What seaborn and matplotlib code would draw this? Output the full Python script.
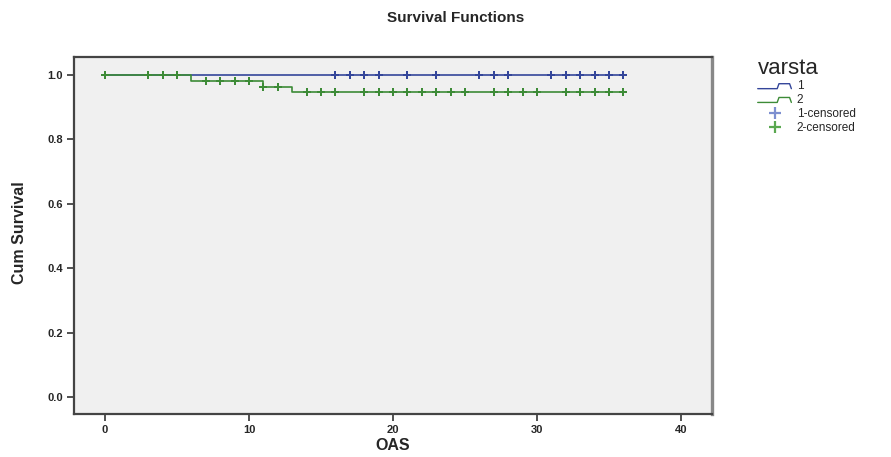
import numpy as np
import pandas as pd
import matplotlib
matplotlib.use("Agg")
import matplotlib.pyplot as plt
import seaborn as sns
from matplotlib.lines import Line2D
from matplotlib.legend_handler import HandlerBase

# ---- data ----
time_1 = [0, 36]
surv_1 = [1.0, 1.0]
censor_1 = [16, 17, 18, 19, 21, 23, 26, 27, 28, 31, 32, 33, 34, 35, 36]

time_2 = [0, 6, 11, 13, 36]
surv_2 = [1.0, 0.981, 0.964, 0.948, 0.948]
censor_2 = [0, 3, 4, 5, 7, 8, 9, 10, 11, 12, 14, 15, 16, 18, 19, 20, 21, 22,
            23, 24, 25, 27, 28, 29, 30, 32, 33, 34, 35, 36]

x_ticks = [0, 10, 20, 30, 40]
y_ticks = [0.0, 0.2, 0.4, 0.6, 0.8, 1.0]
group_labels = ["1", "2"]
legend_title = "varsta"

col_1 = "#34469a"
col_2 = "#3d8b37"


def step_value(times, survs, t):
    idx = np.searchsorted(times, t, side="right") - 1
    return survs[max(idx, 0)]


curves = pd.concat([
    pd.DataFrame({"time": time_1, "surv": surv_1, "grp": "1"}),
    pd.DataFrame({"time": time_2, "surv": surv_2, "grp": "2"}),
])
cens = pd.concat([
    pd.DataFrame({"time": censor_1,
                  "surv": [step_value(time_1, surv_1, t) for t in censor_1],
                  "grp": "1"}),
    pd.DataFrame({"time": censor_2,
                  "surv": [step_value(time_2, surv_2, t) for t in censor_2],
                  "grp": "2"}),
])

sns.set_style("white")
plt.rcParams["font.family"] = ["Liberation Sans", "DejaVu Sans"]

fig = plt.figure(figsize=(8.91, 4.57), dpi=100)
ax = fig.add_axes([74 / 891, 1 - 414 / 457, (712 - 74) / 891, (414 - 57) / 457])
ax.set_facecolor("#f0f0f0")

pal = {"1": col_1, "2": col_2}
for g in group_labels:
    d = curves[curves.grp == g]
    sns.lineplot(data=d, x="time", y="surv", color=pal[g], lw=1.2,
                 drawstyle="steps-post", ax=ax, legend=False, estimator=None)
for g in group_labels:
    d = cens[cens.grp == g]
    sns.scatterplot(data=d, x="time", y="surv", color=pal[g], marker="P",
                    s=28, linewidth=0, ax=ax, legend=False, zorder=3)

ax.set_xlim(-2.15, 42.15)
ax.set_ylim(-0.053, 1.056)
ax.set_xticks(x_ticks)
ax.set_yticks(y_ticks)
ax.set_xticklabels([str(v) for v in x_ticks], fontsize=8, fontweight="bold")
ax.set_yticklabels([f"{v:.1f}" for v in y_ticks], fontsize=8, fontweight="bold")
ax.tick_params(axis="both", direction="out", length=5, width=1.2,
               color="#333333", bottom=True, left=True, pad=3)
for sp in ax.spines.values():
    sp.set_color("#444444")
    sp.set_linewidth(1.6)
ax.spines["right"].set_color("#888888")
ax.spines["right"].set_linewidth(2.4)
ax.set_xlabel("")
ax.set_ylabel("")

fig.text(0.511, 1 - 18 / 457, "Survival Functions", ha="center", va="center",
         fontsize=11, fontweight="bold")
fig.text(393 / 891, 1 - 446 / 457, "OAS", ha="center", va="center",
         fontsize=11.5, fontweight="bold")
fig.text(20 / 891, 1 - 233 / 457, "Cum Survival", ha="center", va="center",
         rotation=90, fontsize=11.5, fontweight="bold")


class HandlerStep(HandlerBase):
    def create_artists(self, legend, orig_handle, xdescent, ydescent,
                       width, height, fontsize, trans):
        w, h = width, height
        xs = [-xdescent, -xdescent + 0.55 * w, -xdescent + 0.6 * w,
              -xdescent + 0.9 * w, -xdescent + 0.95 * w]
        ys = [0.1 * h, 0.1 * h, 0.7 * h, 0.7 * h, 0.1 * h]
        ln = Line2D(xs, ys, color=orig_handle.get_color(), lw=1.0,
                    transform=trans)
        return [ln]


h1 = Line2D([], [], color=col_1)
h2 = Line2D([], [], color=col_2)
h3 = Line2D([], [], color="#7d8fd0", marker="+", ls="none", ms=9, mew=1.6)
h4 = Line2D([], [], color="#5aa850", marker="+", ls="none", ms=9, mew=1.6)
leg = fig.legend([h1, h2, h3, h4],
                 group_labels + [f"{g}-censored" for g in group_labels],
                 handler_map={h1: HandlerStep(), h2: HandlerStep()},
                 loc="upper left", bbox_to_anchor=(753 / 891, 1 - 53 / 457),
                 frameon=False, fontsize=8.5, title=legend_title,
                 title_fontsize=16, handlelength=3.0, handletextpad=0.3,
                 labelspacing=0.15, borderaxespad=0)
leg._legend_box.align = "left"

fig.savefig("out.png", dpi=100)
